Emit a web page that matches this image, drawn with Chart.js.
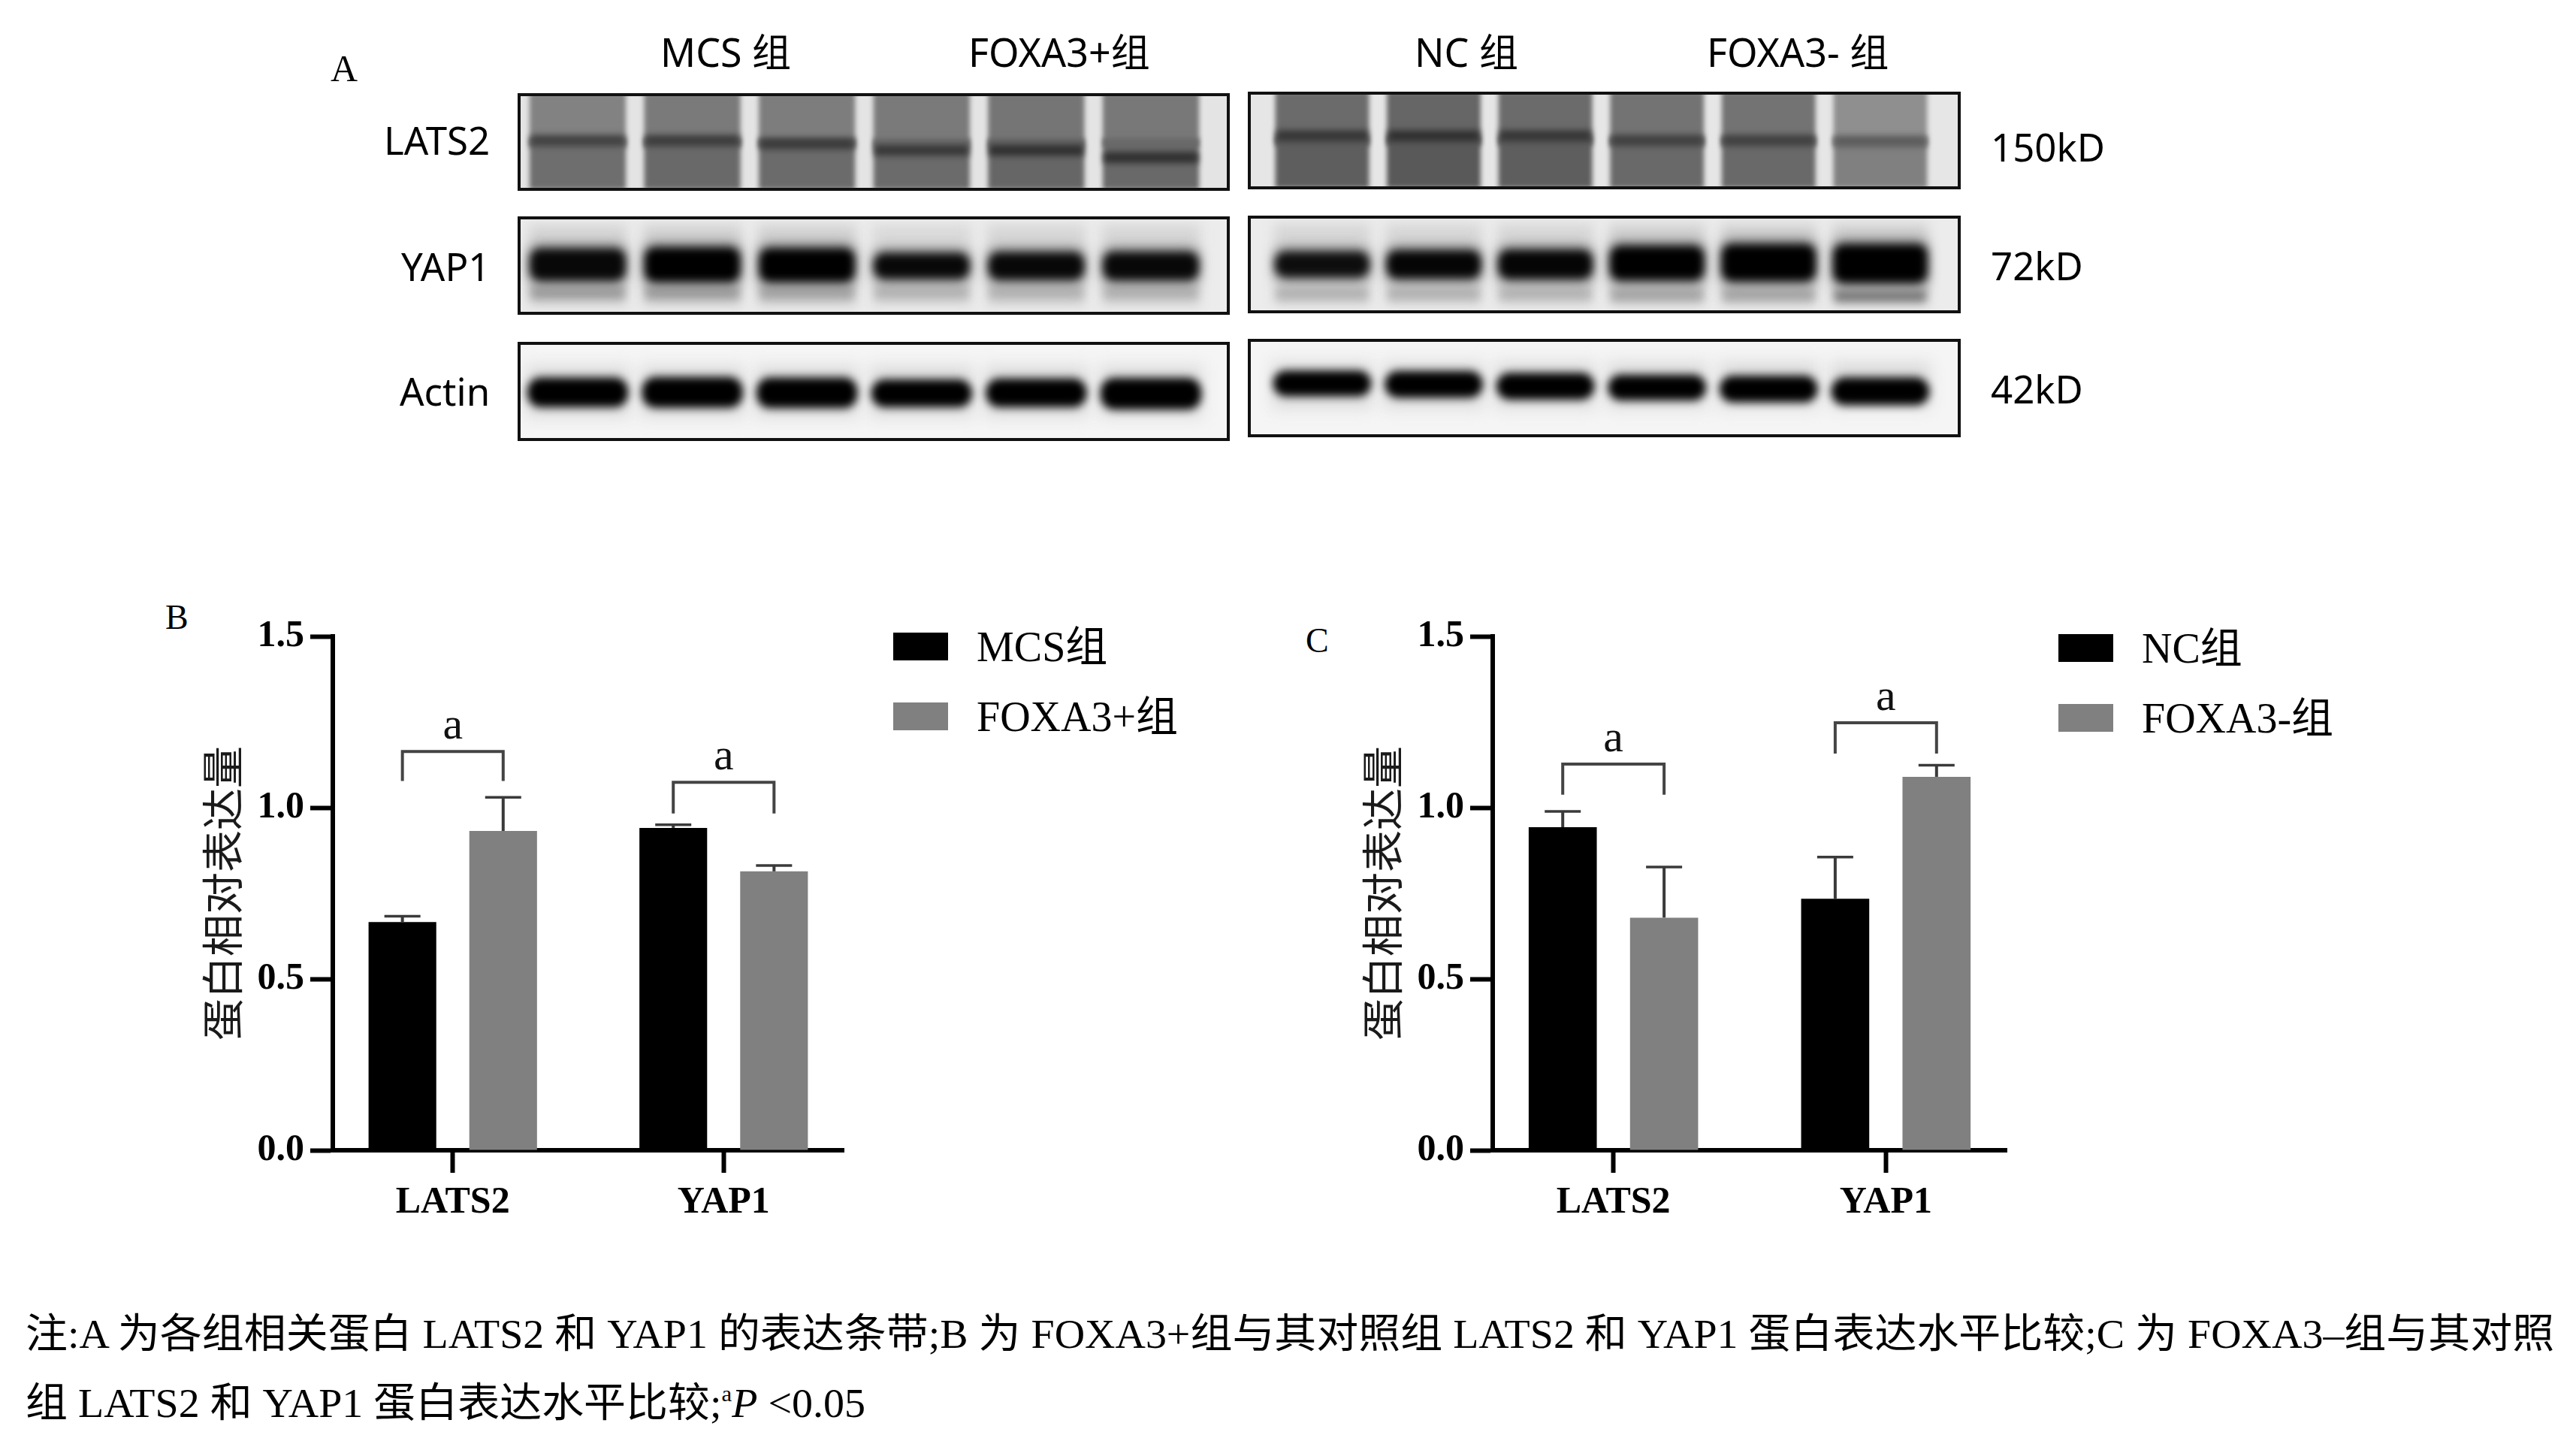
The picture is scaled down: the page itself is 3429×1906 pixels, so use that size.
<!DOCTYPE html>
<html>
<head>
<meta charset="utf-8">
<script src="https://cdn.jsdelivr.net/npm/chart.js@4.4.1/dist/chart.umd.min.js"></script>
<style>
  html, body { margin: 0; padding: 0; background: #fff; }
  #page { position: relative; width: 3429px; height: 1906px; overflow: hidden; background: #fff; }
  .abs { position: absolute; white-space: nowrap; line-height: 1; color: #000; }
  .sans { font-family: "Noto Sans", "Open Sans", "Noto Sans CJK SC", sans-serif; }
  .serif { font-family: "Liberation Serif", "Noto Sans CJK SC", serif; }
  .blot { position: absolute; border: 4px solid #111; box-sizing: border-box; }
  .blot canvas { display: block; }
  .chartbox { position: absolute; }
  .legbox { position: absolute; }
  .note { position: absolute; left: 34px; white-space: nowrap; line-height: 1; font-size: 54px;
          font-family: "Liberation Serif", "Noto Sans CJK SC", serif; transform-origin: left center; }
</style>
</head>
<body>
<div id="page"></div>
<script>
// ---------- data ----------
const categories = ["LATS2", "YAP1"];
const yTicks = [0, 0.5, 1.0, 1.5];
const yTitle = "蛋白相对表达量";

// panel B
const seriesB = ["MCS组", "FOXA3+组"];
const mcsMean = [0.666, 0.941];
const mcsErr = [0.017, 0.009];
const foxaPlusMean = [0.932, 0.814];
const foxaPlusErr = [0.098, 0.017];
const sigBText = ["a", "a"];
const sigBTop = [1.164, 1.074];
const sigBLeg = [1.078, 0.983];

// panel C
const seriesC = ["NC组", "FOXA3-组"];
const ncMean = [0.943, 0.734];
const ncErr = [0.046, 0.122];
const foxaMinusMean = [0.679, 1.090];
const foxaMinusErr = [0.148, 0.034];
const sigCText = ["a", "a"];
const sigCTop = [1.127, 1.248];
const sigCLeg = [1.038, 1.158];

// panel A (western blot): lane index, band centre / thickness (fraction of strip height), darkness 0..1
const lanes = [0, 1, 2, 3, 4, 5];
const groupLabels = ["MCS 组", "FOXA3+组", "NC 组", "FOXA3- 组"];
const blotRows = ["LATS2", "YAP1", "Actin"];
const kdLabels = ["150kD", "72kD", "42kD"];

const lats2LeftLaneTop = [0.49, 0.52, 0.51, 0.52, 0.54, 0.53];
const lats2LeftLaneLow = [0.57, 0.59, 0.58, 0.58, 0.60, 0.59];
const lats2LeftBandPos = [0.485, 0.485, 0.52, 0.59, 0.59, 0.67];
const lats2LeftBandDark = [0.74, 0.76, 0.77, 0.78, 0.81, 0.81];
const lats2RightLaneTop = [0.58, 0.60, 0.58, 0.55, 0.55, 0.44];
const lats2RightLaneLow = [0.63, 0.65, 0.63, 0.59, 0.59, 0.50];
const lats2RightBandPos = [0.45, 0.45, 0.45, 0.50, 0.50, 0.51];
const lats2RightBandDark = [0.79, 0.81, 0.79, 0.75, 0.75, 0.64];

const yap1LeftPos = [0.49, 0.49, 0.495, 0.505, 0.505, 0.505];
const yap1LeftThick = [0.34, 0.37, 0.36, 0.27, 0.29, 0.30];
const yap1LeftLowDark = [0.38, 0.38, 0.35, 0.29, 0.29, 0.30];
const yap1RightPos = [0.50, 0.50, 0.50, 0.485, 0.48, 0.49];
const yap1RightThick = [0.27, 0.30, 0.31, 0.37, 0.40, 0.42];
const yap1RightLowDark = [0.30, 0.30, 0.29, 0.35, 0.35, 0.52];

const actinLeftPos = [0.51, 0.51, 0.515, 0.52, 0.515, 0.525];
const actinLeftThick = [0.32, 0.33, 0.33, 0.30, 0.31, 0.34];
const actinRightPos = [0.45, 0.46, 0.48, 0.495, 0.51, 0.535];
const actinRightThick = [0.28, 0.29, 0.29, 0.28, 0.29, 0.30];

// ---------- helpers ----------
const page = document.getElementById("page");
const fill = v => lanes.map(() => v);
const grow = (arr, d) => arr.map(v => v + d);

function putText(txt, x, y, cls, size, anchor) {
  const d = document.createElement("div");
  d.className = "abs " + cls;
  d.style.fontSize = size + "px";
  d.textContent = txt;
  page.appendChild(d);
  const w = d.offsetWidth, h = d.offsetHeight;
  const left = anchor === "center" ? x - w / 2 : anchor === "right" ? x - w : x;
  d.style.left = left + "px";
  d.style.top = (y - h / 2) + "px";
  return d;
}

function shade(d) {
  const g = Math.round(255 * (1 - d));
  return `rgb(${g},${g},${g})`;
}

const blurPlugin = {
  id: "blotBlur",
  beforeDatasetDraw(chart, args) {
    const ds = chart.data.datasets[args.index];
    chart.ctx.save();
    chart.ctx.filter = `blur(${ds.blur || 0}px)`;
  },
  afterDatasetDraw(chart) {
    chart.ctx.restore();
  }
};

function blotStrip(left, top, w, h, bg, xMin, xMax, layers) {
  const box = document.createElement("div");
  box.className = "blot";
  box.style.left = left + "px";
  box.style.top = top + "px";
  box.style.width = w + "px";
  box.style.height = h + "px";
  box.style.background = bg;
  const cv = document.createElement("canvas");
  cv.width = w - 8;
  cv.height = h - 8;
  box.appendChild(cv);
  page.appendChild(box);

  new Chart(cv, {
    type: "bar",
    data: {
      datasets: layers.map((l, k) => ({
        data: lanes.map((ln, i) => ({ x: ln, y: [l.pos[i] - l.thick[i] / 2, l.pos[i] + l.thick[i] / 2] })),
        backgroundColor: l.dark.map(shade),
        borderWidth: 0,
        borderRadius: l.radius || 0,
        borderSkipped: false,
        grouped: false,
        categoryPercentage: 1,
        barPercentage: l.width,
        order: layers.length - k,   // later layers on top
        blur: l.blur
      }))
    },
    options: {
      responsive: false,
      animation: false,
      events: [],
      layout: { padding: 0 },
      plugins: { legend: { display: false }, tooltip: { enabled: false } },
      scales: {
        x: {
          type: "linear", display: false, min: xMin, max: xMax, offset: false,
          grid: { offset: false },
          afterBuildTicks: s => { s.ticks = lanes.map(v => ({ value: v })); }
        },
        y: { type: "linear", display: false, min: 0, max: 1, reverse: true }
      }
    },
    plugins: [blurPlugin]
  });
}

function barPanel(left, top, w, h, series, means, errs, colors, sigText, sigTop, sigLeg) {
  const cv = document.createElement("canvas");
  cv.className = "chartbox";
  cv.width = w;
  cv.height = h;
  cv.style.left = left + "px";
  cv.style.top = top + "px";
  page.appendChild(cv);

  const errorBars = {
    id: "errorBars",
    afterDatasetsDraw(chart) {
      const { ctx, scales: { y } } = chart;
      ctx.save();
      ctx.strokeStyle = "#3a3a3a";
      series.forEach((s, di) => {
        chart.getDatasetMeta(di).data.forEach((bar, i) => {
          const yTop = y.getPixelForValue(means[di][i] + errs[di][i]);
          ctx.lineWidth = 4;
          ctx.beginPath();
          ctx.moveTo(bar.x, bar.y);
          ctx.lineTo(bar.x, yTop);
          ctx.stroke();
          ctx.lineWidth = 3.5;
          ctx.beginPath();
          ctx.moveTo(bar.x - 24, yTop);
          ctx.lineTo(bar.x + 24, yTop);
          ctx.stroke();
        });
      });
      ctx.restore();
    }
  };

  const sigMarks = {
    id: "sigMarks",
    afterDatasetsDraw(chart) {
      const { ctx, scales: { y } } = chart;
      const m0 = chart.getDatasetMeta(0), m1 = chart.getDatasetMeta(1);
      ctx.save();
      ctx.strokeStyle = "#444";
      ctx.lineWidth = 4;
      ctx.fillStyle = "#111";
      ctx.font = '60px "Liberation Serif"';
      ctx.textAlign = "center";
      ctx.textBaseline = "alphabetic";
      sigTop.forEach((t, i) => {
        const x1 = m0.data[i].x, x2 = m1.data[i].x;
        const yt = y.getPixelForValue(t), yl = y.getPixelForValue(sigLeg[i]);
        ctx.beginPath();
        ctx.moveTo(x1, yl);
        ctx.lineTo(x1, yt);
        ctx.lineTo(x2, yt);
        ctx.lineTo(x2, yl);
        ctx.stroke();
        ctx.fillText(sigText[i], (x1 + x2) / 2, yt - 17);
      });
      ctx.restore();
    }
  };

  new Chart(cv, {
    type: "bar",
    data: {
      datasets: series.map((name, s) => ({
        label: name,
        data: categories.map((c, i) => ({ x: i, y: means[s][i] })),
        backgroundColor: colors[s],
        borderWidth: 0,
        categoryPercentage: 0.744,
        barPercentage: 0.672
      }))
    },
    options: {
      responsive: false,
      animation: false,
      events: [],
      layout: { padding: { top: 67, right: 27, left: 0, bottom: 0 } },
      plugins: { legend: { display: false }, tooltip: { enabled: false } },
      scales: {
        x: {
          type: "linear", min: -0.443, max: 1.443, offset: false,
          afterBuildTicks: s => { s.ticks = categories.map((c, i) => ({ value: i })); },
          afterFit: s => { s.height = 129; },
          ticks: {
            callback: v => categories[v],
            color: "#000", padding: 10,
            font: { family: '"Liberation Serif"', size: 50, weight: "bold" }
          },
          grid: { offset: false, drawOnChartArea: false, drawTicks: true, tickLength: 30, tickWidth: 6, tickColor: "#000" },
          border: { display: true, width: 6, color: "#000" }
        },
        y: {
          min: 0, max: 1.5,
          afterBuildTicks: s => { s.ticks = yTicks.map(v => ({ value: v })); },
          afterFit: s => { s.width = 193; },
          ticks: {
            callback: v => v.toFixed(1),
            color: "#000", padding: 8,
            font: { family: '"Liberation Serif"', size: 50, weight: "bold" }
          },
          grid: { drawOnChartArea: false, drawTicks: true, tickLength: 30, tickWidth: 6, tickColor: "#000" },
          border: { display: true, width: 6, color: "#000" },
          title: {
            display: true, text: yTitle, color: "#1a1a1a",
            font: { family: '"Noto Sans CJK SC"', size: 56 },
            padding: { top: 12, bottom: 0 }
          }
        }
      }
    },
    plugins: [errorBars, sigMarks]
  });
}

function legend(left, top, names, colors) {
  names.forEach((n, i) => {
    const b = document.createElement("div");
    b.className = "legbox";
    b.style.left = left + "px";
    b.style.top = (top + i * 93) + "px";
    b.style.width = "73px";
    b.style.height = "37px";
    b.style.background = colors[i];
    page.appendChild(b);
    putText(n, left + 111, top + i * 93 + 19, "serif", 56, "left");
  });
}

// ---------- panel A ----------
putText("A", 440, 91, "serif", 50, "left");
[966, 1410, 1952, 2393].forEach((x, i) => putText(groupLabels[i], x, 69, "sans", 52, "center"));
[186, 354, 520].forEach((y, i) => putText(blotRows[i], 652, y, "sans", 51, "right"));
[195, 353, 517].forEach((y, i) => putText(kdLabels[i], 2650, y, "sans", 51, "left"));

const L = { x: 689, w: 948, min: -0.498, max: 5.662 };
const R = { x: 1661, w: 949, min: -0.639, max: 5.694 };

blotStrip(L.x, 124, L.w, 130, "#e4e4e4", L.min, L.max, [
  { pos: fill(0.26), thick: fill(0.60), dark: lats2LeftLaneTop, width: 0.84, blur: 3 },
  { pos: fill(0.74), thick: fill(0.56), dark: lats2LeftLaneLow, width: 0.84, blur: 3 },
  { pos: lats2LeftBandPos, thick: fill(0.12), dark: lats2LeftBandDark, width: 0.82, blur: 4 }
]);
blotStrip(R.x, 122, R.w, 130, "#e6e6e6", R.min, R.max, [
  { pos: fill(0.26), thick: fill(0.60), dark: lats2RightLaneTop, width: 0.84, blur: 3 },
  { pos: fill(0.74), thick: fill(0.56), dark: lats2RightLaneLow, width: 0.84, blur: 3 },
  { pos: lats2RightBandPos, thick: fill(0.12), dark: lats2RightBandDark, width: 0.82, blur: 4 }
]);

blotStrip(L.x, 288, L.w, 131, "#ececec", L.min, L.max, [
  { pos: fill(0.5), thick: fill(0.88), dark: [0.17, 0.18, 0.18, 0.15, 0.16, 0.16], width: 0.86, blur: 8 },
  { pos: fill(0.79), thick: fill(0.15), dark: yap1LeftLowDark, width: 0.82, blur: 6 },
  { pos: yap1LeftPos, thick: grow(yap1LeftThick, 0.12), dark: fill(0.45), width: 0.86, blur: 8, radius: 14 },
  { pos: yap1LeftPos, thick: yap1LeftThick, dark: [0.97, 1, 1, 0.97, 0.97, 0.97], width: 0.83, blur: 6, radius: 14 }
]);
blotStrip(R.x, 287, R.w, 130, "#ececec", R.min, R.max, [
  { pos: fill(0.5), thick: fill(0.88), dark: [0.16, 0.16, 0.16, 0.18, 0.18, 0.19], width: 0.86, blur: 8 },
  { pos: [0.82, 0.82, 0.82, 0.83, 0.83, 0.84], thick: fill(0.14), dark: yap1RightLowDark, width: 0.82, blur: 6 },
  { pos: yap1RightPos, thick: grow(yap1RightThick, 0.12), dark: fill(0.45), width: 0.87, blur: 8, radius: 14 },
  { pos: yap1RightPos, thick: yap1RightThick, dark: [0.95, 0.98, 0.98, 1, 1, 1], width: 0.84, blur: 6, radius: 14 }
]);

blotStrip(L.x, 455, L.w, 132, "#f5f5f5", L.min, L.max, [
  { pos: fill(0.5), thick: fill(0.55), dark: fill(0.14), width: 0.9, blur: 10 },
  { pos: actinLeftPos, thick: actinLeftThick, dark: fill(1), width: 0.88, blur: 6, radius: 18 }
]);
blotStrip(R.x, 451, R.w, 131, "#f5f5f5", R.min, R.max, [
  { pos: fill(0.47), thick: fill(0.5), dark: fill(0.14), width: 0.9, blur: 10 },
  { pos: actinRightPos, thick: actinRightThick, dark: fill(1), width: 0.88, blur: 6, radius: 18 }
]);

// ---------- panels B and C ----------
const barColors = ["#000000", "#808080"];
putText("B", 220, 822, "serif", 46, "left");
barPanel(250, 780, 900, 880, seriesB, [mcsMean, foxaPlusMean], [mcsErr, foxaPlusErr], barColors, sigBText, sigBTop, sigBLeg);
legend(1189, 842, seriesB, barColors);

putText("C", 1738, 853, "serif", 46, "left");
barPanel(1794, 780, 904, 880, seriesC, [ncMean, foxaMinusMean], [ncErr, foxaMinusErr], barColors, sigCText, sigCTop, sigCLeg);
legend(2740, 844, seriesC, barColors);

// ---------- note ----------
const n1 = document.createElement("div");
n1.className = "note";
n1.textContent = "注:A 为各组相关蛋白 LATS2 和 YAP1 的表达条带;B 为 FOXA3+组与其对照组 LATS2 和 YAP1 蛋白表达水平比较;C 为 FOXA3–组与其对照";
page.appendChild(n1);
const n2 = document.createElement("div");
n2.className = "note";
n2.innerHTML = '组 LATS2 和 YAP1 蛋白表达水平比较;<span style="font-size:0.55em;vertical-align:0.7em">a</span><i>P</i> &lt;0.05';
page.appendChild(n2);
n1.style.top = (1776 - n1.offsetHeight / 2) + "px";
n2.style.top = (1868 - n2.offsetHeight / 2) + "px";
const k = 3366 / n1.offsetWidth;
n1.style.transform = `scaleX(${k})`;
n2.style.transform = `scaleX(${k})`;
</script>
</body>
</html>
